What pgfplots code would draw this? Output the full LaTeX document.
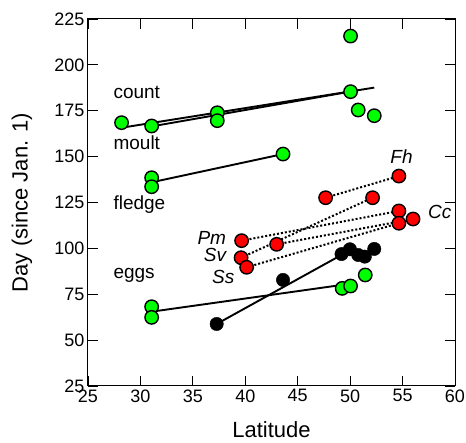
\documentclass[border=0pt]{standalone}
\usepackage{pgfplots}
\pgfplotsset{compat=1.18}
\usepackage{fontspec}
\setmainfont{Liberation Sans}
\begin{document}
\begin{tikzpicture}
\begin{axis}[
    scale only axis,
    width=367pt, height=367pt,
    xmin=25, xmax=60, ymin=25, ymax=225,
    xtick={25,30,...,60}, ytick={25,50,...,225},
    tick align=inside, major tick length=10pt,
    every tick/.style={black, line width=0.8pt},
    axis line style={line width=1pt},
    xlabel={Latitude}, ylabel={Day (since Jan. 1)},
    tick label style={font=\fontsize{18}{20}\selectfont},
    label style={font=\fontsize{22}{26}\selectfont},
    /pgf/number format/assume math mode=true,
    ylabel style={at={(axis description cs:-0.18,0.5)}, anchor=center},
    xlabel style={at={(axis description cs:0.5,-0.12)}, anchor=center},
    clip=false,
]
% regression lines
\addplot[black, line width=1.9pt] coordinates {(28.7,166.2) (52.3,187.6)};
\addplot[black, line width=1.9pt] coordinates {(31,166.4) (50,185.4)};
\addplot[black, line width=1.9pt] coordinates {(31.07,136) (43.6,151.4)};
\addplot[black, line width=1.9pt] coordinates {(31.07,65.5) (49.5,80.3)};
\addplot[black, line width=1.9pt] coordinates {(37.27,58.8) (49.2,96.5)};
% species pairs (dotted)
\addplot[black, line width=2pt, dash pattern=on 2pt off 2pt] coordinates {(47.66,127.6) (54.65,139.4)};
\addplot[black, line width=2pt, dash pattern=on 2pt off 2pt] coordinates {(39.65,104.2) (54.65,120.4)};
\addplot[black, line width=2pt, dash pattern=on 2pt off 2pt] coordinates {(39.6,94.9) (52.14,127.6)};
\addplot[black, line width=2pt, dash pattern=on 2pt off 2pt] coordinates {(40.13,89.7) (54.65,113.7)};
\addplot[black, line width=2pt, dash pattern=on 2pt off 2pt] coordinates {(42.99,102.2) (56.0,116.0)};
% black points
\addplot[only marks, mark=*, mark size=6.7pt, mark options={fill=black, draw=black}] coordinates {
    (37.27,58.8) (43.6,82.8) (49.18,96.9) (49.98,99.5) (50.77,96.4) (51.4,95.5) (52.3,99.7)
};
% green points
\addplot[only marks, mark=*, mark size=6.7pt, mark options={fill=green, draw=black, line width=1.4pt}] coordinates {
    (28.2,168.5) (31.07,166.7) (37.33,173.9) (37.33,169.6) (50.04,185.4) (50.77,175.4) (52.3,172.3) (50.04,215.7)
    (31.07,138.5) (31.07,133.6) (43.6,151.4)
    (31.07,68.2) (31.07,62.4) (49.24,78.2) (50.04,79.5) (51.44,85.5)
};
% red points
\addplot[only marks, mark=*, mark size=6.7pt, mark options={fill=red, draw=black, line width=1.4pt}] coordinates {
    (47.66,127.6) (52.14,127.6) (54.65,139.4) (54.65,120.4) (54.65,113.7) (56.0,116.0)
    (39.65,104.2) (42.99,102.2) (39.6,94.9) (40.13,89.7)
};
% labels
\begin{scope}[every node/.style={font=\fontsize{19}{22}\selectfont}]
\node[anchor=west] at (axis cs:27.1,184.7) {count};
\node[anchor=west] at (axis cs:27.1,157.4) {moult};
\node[anchor=west] at (axis cs:27.1,123.6) {fledge};
\node[anchor=west] at (axis cs:27.1,85.5) {eggs};
\node[font=\fontsize{19}{22}\selectfont\itshape] at (axis cs:54.9,149.8) {Fh};
\node[font=\fontsize{19}{22}\selectfont\itshape, anchor=east] at (axis cs:38.5,105.7) {Pm};
\node[font=\fontsize{19}{22}\selectfont\itshape, anchor=east] at (axis cs:38.5,96.4) {Sv};
\node[font=\fontsize{19}{22}\selectfont\itshape, anchor=east] at (axis cs:39.3,84.4) {Ss};
\node[font=\fontsize{19}{22}\selectfont\itshape, anchor=west] at (axis cs:57.1,119.8) {Cc};
\end{scope}
\coordinate (ll) at (rel axis cs:0,0);
\coordinate (ur) at (rel axis cs:1,1);
\end{axis}
\pgfresetboundingbox
\path ([shift={(-88pt,-57pt)}]ll) rectangle ([shift={(11pt,19pt)}]ur);
\end{tikzpicture}
\end{document}
